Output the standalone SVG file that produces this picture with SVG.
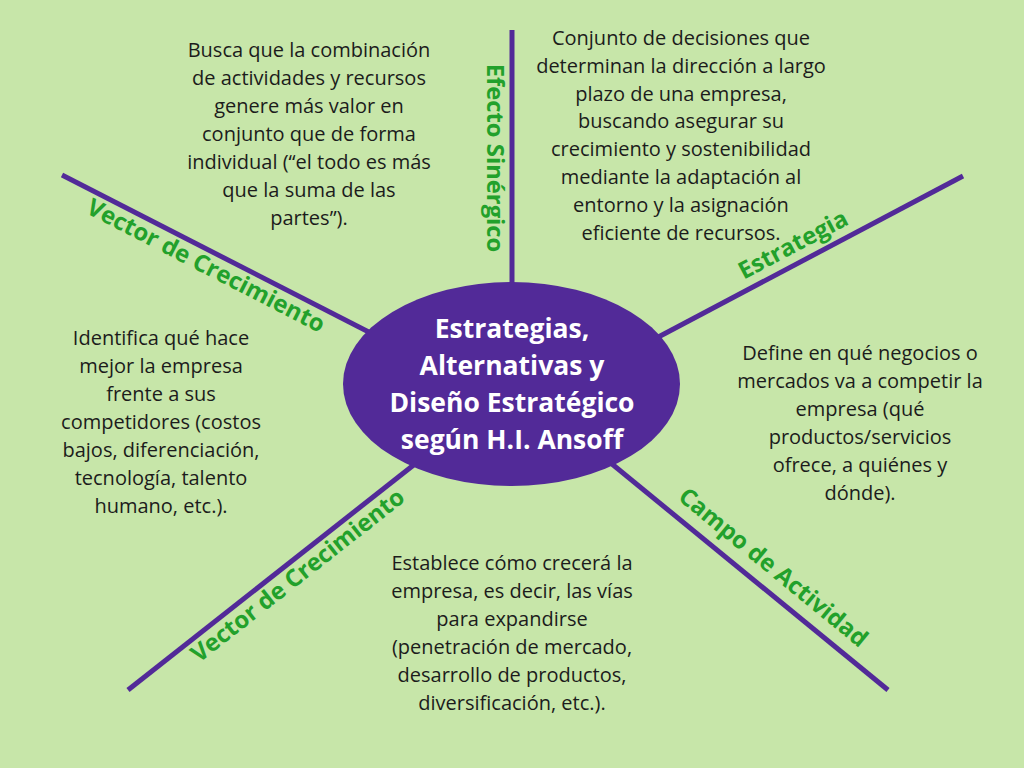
<svg xmlns="http://www.w3.org/2000/svg" width="1024" height="768" viewBox="0 0 1024 768">
<style>
.body{font-family:"Open Sans","Liberation Sans",sans-serif;font-size:20px;fill:#1c1c1c;text-anchor:middle}
.lbl{font-family:"Open Sans","Liberation Sans",sans-serif;font-size:23.8px;font-weight:bold;fill:#22a12b;text-anchor:middle}
.title{font-family:"Open Sans","Liberation Sans",sans-serif;font-size:26.5px;font-weight:bold;fill:#ffffff;text-anchor:middle}
.conn{stroke:#522a98;stroke-width:5;stroke-linecap:butt;fill:none}
</style>
<rect width="1024" height="768" fill="#c7e6a9"/>
<g id="connectors">
<line class="conn" x1="512" y1="30" x2="512" y2="320"/>
<line class="conn" x1="62" y1="175" x2="400" y2="348"/>
<line class="conn" x1="963" y1="176" x2="630" y2="352"/>
<line class="conn" x1="128" y1="690" x2="420" y2="460"/>
<line class="conn" x1="888" y1="690" x2="590" y2="446"/>
</g>
<g id="center">
<ellipse cx="511.5" cy="384" rx="168.5" ry="102" fill="#522a98"/>
<text class="title" x="512" y="338">Estrategias,</text>
<text class="title" x="512" y="375">Alternativas y</text>
<text class="title" x="512" y="412">Diseño Estratégico</text>
<text class="title" x="512" y="449">según H.I. Ansoff</text>
</g>
<g id="label-efecto"><text class="lbl" transform="translate(487,158) rotate(90)">Efecto Sinérgico</text></g>
<g id="label-vector-1"><text class="lbl" transform="translate(202.3,272.8) rotate(27.2)">Vector de Crecimiento</text></g>
<g id="label-estrategia"><text class="lbl" transform="translate(796.8,251.8) rotate(-27.8)">Estrategia</text></g>
<g id="label-vector-2"><text class="lbl" transform="translate(302.7,581.7) rotate(-38.2)">Vector de Crecimiento</text></g>
<g id="label-campo"><text class="lbl" transform="translate(768.2,573.6) rotate(39.3)">Campo de Actividad</text></g>
<g id="text-sinergico">
<text class="body" x="309" y="57">Busca que la combinación</text>
<text class="body" x="309" y="85">de actividades y recursos</text>
<text class="body" x="309" y="113">genere más valor en</text>
<text class="body" x="309" y="141">conjunto que de forma</text>
<text class="body" x="309" y="169">individual (“el todo es más</text>
<text class="body" x="309" y="197">que la suma de las</text>
<text class="body" x="309" y="225">partes”).</text>
</g>
<g id="text-estrategia">
<text class="body" x="681" y="45">Conjunto de decisiones que</text>
<text class="body" x="681" y="72.8">determinan la dirección a largo</text>
<text class="body" x="681" y="100.6">plazo de una empresa,</text>
<text class="body" x="681" y="128.4">buscando asegurar su</text>
<text class="body" x="681" y="156.2">crecimiento y sostenibilidad</text>
<text class="body" x="681" y="184">mediante la adaptación al</text>
<text class="body" x="681" y="211.8">entorno y la asignación</text>
<text class="body" x="681" y="239.6">eficiente de recursos.</text>
</g>
<g id="text-vector-1">
<text class="body" x="161" y="345">Identifica qué hace</text>
<text class="body" x="161" y="373">mejor la empresa</text>
<text class="body" x="161" y="401">frente a sus</text>
<text class="body" x="161" y="429">competidores (costos</text>
<text class="body" x="161" y="457">bajos, diferenciación,</text>
<text class="body" x="161" y="485">tecnología, talento</text>
<text class="body" x="161" y="513">humano, etc.).</text>
</g>
<g id="text-campo">
<text class="body" x="860" y="360">Define en qué negocios o</text>
<text class="body" x="860" y="388">mercados va a competir la</text>
<text class="body" x="860" y="416">empresa (qué</text>
<text class="body" x="860" y="444">productos/servicios</text>
<text class="body" x="860" y="472">ofrece, a quiénes y</text>
<text class="body" x="860" y="500">dónde).</text>
</g>
<g id="text-vector-2">
<text class="body" x="512" y="570">Establece cómo crecerá la</text>
<text class="body" x="512" y="598">empresa, es decir, las vías</text>
<text class="body" x="512" y="626">para expandirse</text>
<text class="body" x="512" y="654">(penetración de mercado,</text>
<text class="body" x="512" y="682">desarrollo de productos,</text>
<text class="body" x="512" y="710">diversificación, etc.).</text>
</g>
</svg>
